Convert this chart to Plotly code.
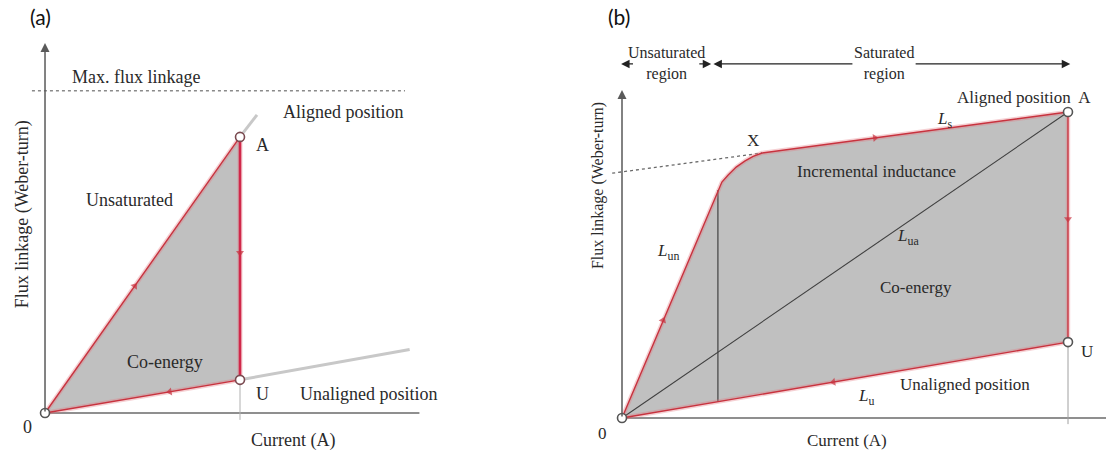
import plotly.graph_objects as go

# ---------------- (a) linear (non-saturating) model, normalised units ----------------
A_CURRENT = [0.0, 1.0]              # origin and operating current
A_ALIGNED_FLUX = [0.0, 1.0]         # O -> A
A_UNALIGNED_FLUX = [0.0, 0.12]      # O -> U
A_MAX_FLUX = 1.167                  # max. flux linkage level
A_ALIGNED_EXT = ([1.0, 1.087], [1.0, 1.08])
A_UNALIGNED_EXT = ([1.0, 1.87], [0.12, 0.23])
A_AXIS_X_END = 1.92
A_AXIS_Y_END = 1.34
A_ARROW_POS = {"aligned": 0.46, "vertical": 0.58, "unaligned": 0.64}

# ---------------- (b) saturating model, normalised units ----------------
B_ALIGNED_CURRENT = [0.0, 0.213, 0.224, 0.238, 0.256, 0.276, 0.294, 0.314, 1.0]   # O -> X -> A
B_ALIGNED_FLUX = [0.0, 0.739, 0.771, 0.794, 0.820, 0.840, 0.855, 0.866, 1.0]
B_UNALIGNED_CURRENT = [0.0, 1.0]
B_UNALIGNED_FLUX = [0.0, 0.248]
B_SAT_EXT_CURRENT = [-0.022, 0.314]                          # tangent of saturated part
B_SAT_EXT_FLUX = [0.800, 0.866]
B_KNEE_CURRENT = 0.215
B_KNEE_FLUX = [0.053, 0.745]
B_AXIS_X_END = 1.09
B_AXIS_Y_END = 1.072
B_REGION_Y = 1.157
B_UNSAT_REGION = [-0.002, 0.200]
B_SAT_REGION = [0.205, 1.005]
B_SAT_GAP = [0.52, 0.655]            # where the "Saturated" caption interrupts the arrow

RED = "#c8323e"
HALO = "rgba(225,120,130,0.35)"
FILL = "#c0c0c0"
TXT = "#2a2a2a"
SERIF = "Liberation Serif"

fig = go.Figure()


def line(x, y, ax, color, width, dash=None):
    fig.add_trace(go.Scatter(x=x, y=y, mode="lines", xaxis=ax[0], yaxis=ax[1],
                             line=dict(color=color, width=width, dash=dash),
                             hoverinfo="skip", showlegend=False))


def red_line(x, y, ax, width=1.4):
    line(x, y, ax, HALO, width + 3)
    line(x, y, ax, RED, width)


def arrow_mark(x0, y0, x1, y1, ax):
    # two-point path; the marker on the second point is rotated along the path
    fig.add_trace(go.Scatter(x=[x0, x1], y=[y0, y1], mode="markers",
                             xaxis=ax[0], yaxis=ax[1],
                             marker=dict(symbol="triangle-up", size=[0, 7], color=RED,
                                         angleref="previous", line=dict(width=0)),
                             hoverinfo="skip", showlegend=False))


def circle(x, y, ax, edge="#555555"):
    fig.add_trace(go.Scatter(x=[x], y=[y], mode="markers", xaxis=ax[0], yaxis=ax[1],
                             marker=dict(symbol="circle", size=9, color="white",
                                         line=dict(color=edge, width=1.6)),
                             hoverinfo="skip", showlegend=False))


AX_A = ("x", "y")
AX_B = ("x2", "y2")

# ---------------- panel (a) ----------------
a_poly_x = [A_CURRENT[0], A_CURRENT[1], A_CURRENT[1], A_CURRENT[0]]
a_poly_y = [A_ALIGNED_FLUX[0], A_ALIGNED_FLUX[1], A_UNALIGNED_FLUX[1], A_UNALIGNED_FLUX[0]]
fig.add_trace(go.Scatter(x=a_poly_x, y=a_poly_y, mode="lines", fill="toself",
                         fillcolor=FILL, line=dict(width=0), hoverinfo="skip",
                         showlegend=False))
# light extensions of the two characteristics
line(*A_ALIGNED_EXT, AX_A, "#c8c8c8", 3)
line(*A_UNALIGNED_EXT, AX_A, "#c8c8c8", 3)
# current axis
line([0, A_AXIS_X_END], [0, 0], AX_A, "#6a6a6a", 1.5)
# max flux linkage level
line([-0.067, 1.846], [A_MAX_FLUX, A_MAX_FLUX], AX_A, "#8a8a8a", 1.6, "dot")
# drop line from U to the current axis
line([A_CURRENT[1], A_CURRENT[1]], [A_UNALIGNED_FLUX[1], -0.025], AX_A, "#b0b0b0", 1)
# loop
red_line(A_CURRENT, A_ALIGNED_FLUX, AX_A)
red_line(A_CURRENT, A_UNALIGNED_FLUX, AX_A)
line([A_CURRENT[1], A_CURRENT[1]], [A_ALIGNED_FLUX[1], A_UNALIGNED_FLUX[1]], AX_A, HALO, 5)
line([A_CURRENT[1], A_CURRENT[1]], [A_ALIGNED_FLUX[1], A_UNALIGNED_FLUX[1]], AX_A, "#d0284a", 2.6)
# direction arrows
s_al = A_ALIGNED_FLUX[1] / A_CURRENT[1]
s_un = A_UNALIGNED_FLUX[1] / A_CURRENT[1]
p = A_ARROW_POS["aligned"]
arrow_mark(p - 0.05, s_al * (p - 0.05), p, s_al * p, AX_A)
p = A_ARROW_POS["vertical"]
arrow_mark(A_CURRENT[1], p + 0.05, A_CURRENT[1], p, AX_A)
p = A_ARROW_POS["unaligned"]
arrow_mark(p + 0.05, s_un * (p + 0.05), p, s_un * p, AX_A)
circle(0, 0, AX_A)
circle(A_CURRENT[1], A_ALIGNED_FLUX[1], AX_A, "#7a4a50")
circle(A_CURRENT[1], A_UNALIGNED_FLUX[1], AX_A, "#7a4a50")

# ---------------- panel (b) ----------------
b_poly_x = B_ALIGNED_CURRENT + [B_UNALIGNED_CURRENT[1], B_UNALIGNED_CURRENT[0]]
b_poly_y = B_ALIGNED_FLUX + [B_UNALIGNED_FLUX[1], B_UNALIGNED_FLUX[0]]
fig.add_trace(go.Scatter(x=b_poly_x, y=b_poly_y, mode="lines", fill="toself",
                         fillcolor=FILL, line=dict(width=0), xaxis="x2", yaxis="y2",
                         hoverinfo="skip", showlegend=False))
line([0, B_AXIS_X_END], [0, 0], AX_B, "#6a6a6a", 1.5)
line(B_SAT_EXT_CURRENT, B_SAT_EXT_FLUX, AX_B, "#6a6a6a", 1.3, "dot")
line([1.0, 1.0], [B_UNALIGNED_FLUX[1], -0.02], AX_B, "#a0a0a0", 1)
line([B_KNEE_CURRENT, B_KNEE_CURRENT], B_KNEE_FLUX, AX_B, "#5a5a5a", 1.5)
line([0, B_ALIGNED_CURRENT[-1]], [0, B_ALIGNED_FLUX[-1]], AX_B, "#404040", 1.1)
red_line(B_ALIGNED_CURRENT, B_ALIGNED_FLUX, AX_B)
red_line(B_UNALIGNED_CURRENT, B_UNALIGNED_FLUX, AX_B)
red_line([1.0, 1.0], [B_ALIGNED_FLUX[-1], B_UNALIGNED_FLUX[1]], AX_B)
s_lun = B_ALIGNED_FLUX[1] / B_ALIGNED_CURRENT[1]
arrow_mark(0.06, s_lun * 0.06, 0.092, s_lun * 0.092, AX_B)
s_sat = (B_ALIGNED_FLUX[-1] - B_ALIGNED_FLUX[-2]) / (B_ALIGNED_CURRENT[-1] - B_ALIGNED_CURRENT[-2])
arrow_mark(0.52, B_ALIGNED_FLUX[-2] + s_sat * (0.52 - B_ALIGNED_CURRENT[-2]),
           0.567, B_ALIGNED_FLUX[-2] + s_sat * (0.567 - B_ALIGNED_CURRENT[-2]), AX_B)
arrow_mark(1.0, 0.70, 1.0, 0.65, AX_B)
s_ub = B_UNALIGNED_FLUX[1] / B_UNALIGNED_CURRENT[1]
arrow_mark(0.52, s_ub * 0.52, 0.474, s_ub * 0.474, AX_B)
circle(0, 0, AX_B)
circle(1.0, B_ALIGNED_FLUX[-1], AX_B)
circle(1.0, B_UNALIGNED_FLUX[1], AX_B)

# ---------------- text ----------------
ann = []


def txt(x, y, s, ax, size, **kw):
    d = dict(x=x, y=y, text=s, xref=ax[0], yref=ax[1], showarrow=False,
             font=dict(family=SERIF, size=size, color=TXT))
    d.update(kw)
    ann.append(d)


def arrow(x_tail, x_head, y, ax):
    ann.append(dict(x=x_head, y=y, ax=x_tail, ay=y, xref=ax[0], yref=ax[1],
                    axref=ax[0], ayref=ax[1], text="", showarrow=True, arrowhead=2,
                    arrowsize=1.3, arrowwidth=1.3, arrowcolor="#222222"))


FA = 18
txt(0.467, 1.217, "Max. flux linkage", AX_A, FA)
txt(1.533, 1.091, "Aligned position", AX_A, FA)
txt(1.113, 0.971, "A", AX_A, FA)
txt(0.431, 0.772, "Unsaturated", AX_A, FA)
txt(0.615, 0.185, "Co-energy", AX_A, FA)
txt(1.113, 0.069, "U", AX_A, FA)
txt(1.297, 0.069, "Unaligned position", AX_A, FA, xanchor="left")
txt(-0.092, -0.051, "0", AX_A, FA)
txt(1.272, -0.098, "Current (A)", AX_A, FA)
txt(-0.115, 0.718, "Flux linkage (Weber-turn)", AX_A, FA, textangle=-90)

FB = 17
txt(1.056, 1.049, "Aligned position  A", AX_B, FB, xanchor="right")
txt(0.293, 0.907, "X", AX_B, FB)
txt(0.724, 0.974, "<i>L</i><sub>s</sub>", AX_B, FB)
txt(0.570, 0.807, "Incremental inductance", AX_B, FB)
txt(0.103, 0.542, "<i>L</i><sub>un</sub>", AX_B, FB)
txt(0.641, 0.592, "<i>L</i><sub>ua</sub>", AX_B, FB)
txt(0.659, 0.428, "Co-energy", AX_B, FB)
txt(0.769, 0.108, "Unaligned position", AX_B, FB)
txt(0.547, 0.069, "<i>L</i><sub>u</sub>", AX_B, FB)
txt(1.043, 0.216, "U", AX_B, FB)
txt(-0.043, -0.049, "0", AX_B, FB)
txt(0.504, -0.072, "Current (A)", AX_B, FB)
txt(-0.054, 0.761, "Flux linkage (Weber-turn)", AX_B, FB - 1, textangle=-90)

# region arrows above panel (b): heads only for the short unsaturated span,
# and a split arrow around the "Saturated" caption
u0, u1 = B_UNSAT_REGION
arrow(u0 + 0.03, u0, B_REGION_Y, AX_B)
arrow(u1 - 0.03, u1, B_REGION_Y, AX_B)
s0, s1 = B_SAT_REGION
arrow(B_SAT_GAP[0], s0, B_REGION_Y, AX_B)
arrow(B_SAT_GAP[1], s1, B_REGION_Y, AX_B)
txt((u0 + u1) / 2, B_REGION_Y, "Unsaturated<br>region", AX_B, FB - 1)
txt(sum(B_SAT_GAP) / 2, B_REGION_Y, "Saturated<br>region", AX_B, FB - 1)

# vertical axes with arrow heads
ann.append(dict(x=0, y=A_AXIS_Y_END, ax=0, ay=0, xref="x", yref="y", axref="x", ayref="y",
                text="", showarrow=True, arrowhead=2, arrowsize=1.2, arrowwidth=1.5,
                arrowcolor="#5a5a5a"))
ann.append(dict(x=0, y=B_AXIS_Y_END, ax=0, ay=0, xref="x2", yref="y2", axref="x2",
                ayref="y2", text="", showarrow=True, arrowhead=2, arrowsize=1.2,
                arrowwidth=1.5, arrowcolor="#5a5a5a"))

# panel letters
ann.append(dict(x=40 / 1106, y=1 - 16 / 454, xref="paper", yref="paper", text="(a)",
                xanchor="center", yanchor="middle", showarrow=False,
                font=dict(family="Lato", size=21, color="#111111")))
ann.append(dict(x=619 / 1106, y=1 - 17 / 454, xref="paper", yref="paper", text="(b)",
                xanchor="center", yanchor="middle", showarrow=False,
                font=dict(family="Lato", size=21, color="#111111")))

hidden = dict(visible=False, fixedrange=True)
fig.update_layout(
    width=1106, height=454,
    margin=dict(l=0, r=0, t=0, b=0),
    paper_bgcolor="white", plot_bgcolor="white",
    showlegend=False,
    xaxis=dict(domain=[0, 0.5], range=[-0.2308, 2.605], **hidden),
    yaxis=dict(domain=[0, 1], range=[-0.1486, 1.496], **hidden),
    xaxis2=dict(domain=[0.5, 1], range=[-0.1547, 1.0852], anchor="y2", **hidden),
    yaxis2=dict(domain=[0, 1], range=[-0.1176, 1.366], anchor="x2", **hidden),
    annotations=ann,
)

fig.write_html("out.html")
